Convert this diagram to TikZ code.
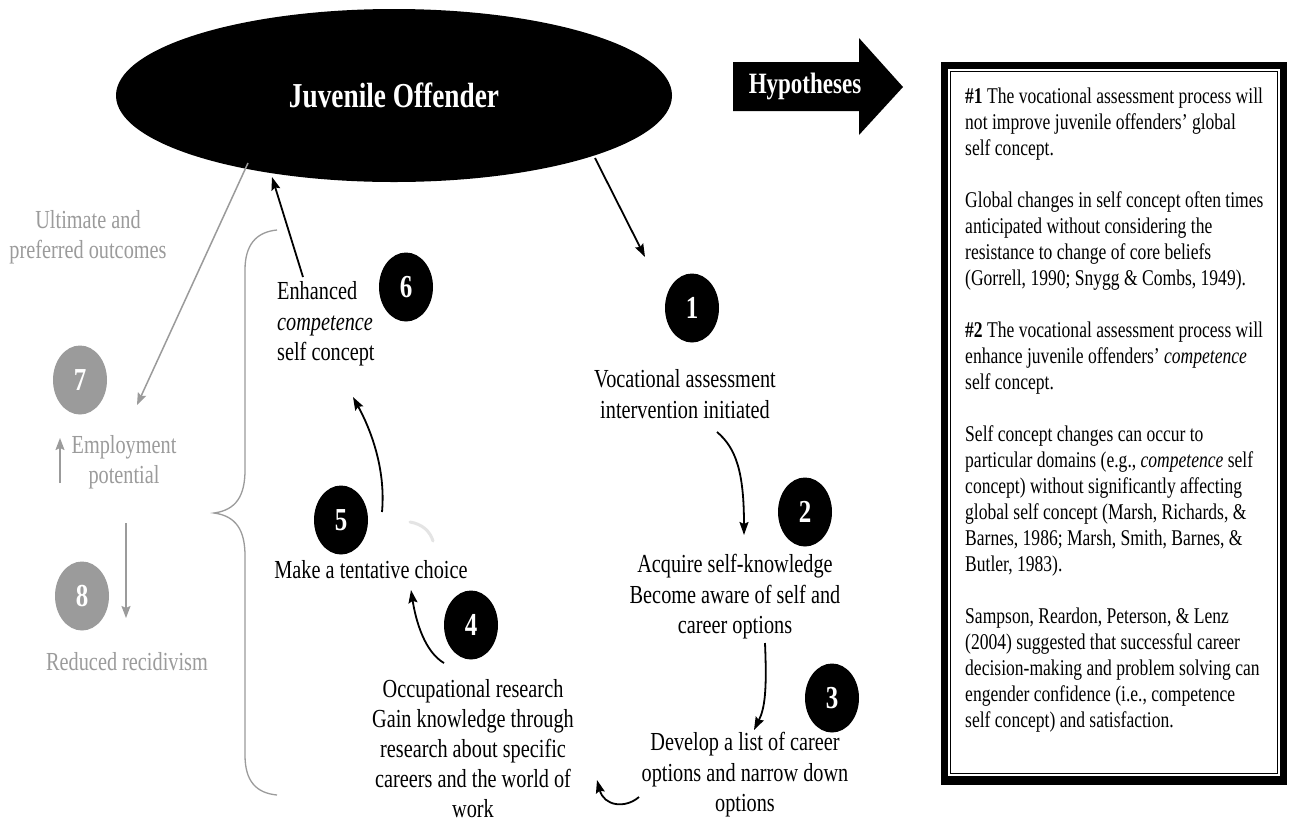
\documentclass[tikz,border=0pt]{standalone}
\usepackage{fontspec}
\setmainfont{Liberation Serif}[FakeStretch=0.78]
\usetikzlibrary{shapes.geometric,arrows.meta}
\definecolor{lgray}{RGB}{155,155,155}
\definecolor{fgray}{RGB}{228,228,228}
\begin{document}
\begin{tikzpicture}[x=1pt,y=-1pt,
  txt/.style={font=\fontsize{26}{30.5}\selectfont, align=center, inner sep=0pt},
  gtxt/.style={txt, text=lgray},
  num/.style={ellipse, fill=black, minimum width=54pt, minimum height=69pt, inner sep=0pt, text=white, font=\bfseries\fontsize{32}{32}\selectfont},
  gnum/.style={num, fill=lgray},
  arr/.style={line width=1.8pt, -{Stealth[length=13pt,width=9pt,inset=2pt]}},
  garr/.style={draw=lgray, line width=1.5pt, -{Stealth[length=12pt,width=9pt,inset=2pt]}},
  brace/.style={draw=lgray, line width=1.3pt}
]
\fill[white] (0,0) rectangle (1291,823);
\useasboundingbox (0,0) rectangle (1291,823);

% title ellipse
\node[ellipse, fill=black, minimum width=556pt, minimum height=173pt, inner sep=0pt] (ell) at (394,95.5) {};
\node[text=white, font=\bfseries\fontsize{35}{40}\selectfont, inner sep=0pt] (title) at (394,95) {Juvenile Offender};

% hypotheses arrow
\fill[black] (733,62) -- (859,62) -- (859,38) -- (903,87) -- (859,135) -- (859,111) -- (733,111) -- cycle;
\node[text=white, font=\bfseries\fontsize{29.5}{32}\selectfont, inner sep=0pt] (hyp) at (805,86) {Hypotheses};

% hypotheses box
\fill[black] (941,62) rectangle (1287,785);
\fill[white] (948,69) rectangle (1280,776);
\draw[line width=1.6pt] (950.5,71.5) rectangle (1277.5,773.5);
\node[anchor=north west, inner sep=0pt, align=left, font=\fontsize{22.5}{26}\selectfont] (hyptext) at (965,88)
{\textbf{\#1} The vocational assessment process will\\
not improve juvenile offenders' global\\
self concept.\\[26pt]
Global changes in self concept often times\\
anticipated without considering the\\
resistance to change of core beliefs\\
(Gorrell, 1990; Snygg \& Combs, 1949).\\[26pt]
\textbf{\#2} The vocational assessment process will\\
enhance juvenile offenders' \textit{competence}\\
self concept.\\[26pt]
Self concept changes can occur to\\
particular domains (e.g., \textit{competence} self\\
concept) without significantly affecting\\
global self concept (Marsh, Richards, \&\\
Barnes, 1986; Marsh, Smith, Barnes, \&\\
Butler, 1983).\\[26pt]
Sampson, Reardon, Peterson, \& Lenz\\
(2004) suggested that successful career\\
decision-making and problem solving can\\
engender confidence (i.e., competence\\
self concept) and satisfaction.};

% step circles
\node[num] (c1) at (692,308) {1};
\node[num] (c2) at (805,512) {2};
\node[num] (c3) at (832,698) {3};
\node[num] (c4) at (471,625) {4};
\node[num] (c5) at (341,520) {5};
\node[num] (c6) at (406,287) {6};
\node[gnum] (c7) at (80,380) {7};
\node[gnum] (c8) at (82,596) {8};

% step texts
\node[txt] (t1) at (685,394) {Vocational assessment\\intervention initiated};
\node[txt] (t2) at (735,597) {Acquire self-knowledge\\Become aware of self and\\career options};
\node[txt] (t3) at (745,775) {Develop a list of career\\options and narrow down\\options};
\node[txt, font=\fontsize{26}{30}\selectfont] (t4) at (473,749) {Occupational research\\Gain knowledge through\\research about specific\\careers and the world of\\work};
\node[txt] (t5) at (371,570) {Make a tentative choice};
\node[txt, align=left, anchor=west] (t6) at (277,324) {Enhanced\\\textit{competence}\\self concept};

% gray texts
\node[gtxt] (g0) at (88,237) {Ultimate and\\preferred outcomes};
\node[gtxt] (g7) at (124,462) {Employment\\potential};
\node[gtxt] (g8) at (127,662) {Reduced recidivism};

% arrow end points
\coordinate (a0s) at (595,158);  \coordinate (a0e) at (645,257);
\coordinate (a1s) at (717,432);  \coordinate (a1e) at (744,535);
\coordinate (a2s) at (765,643);  \coordinate (a2e) at (754,730);
\coordinate (a3s) at (639,797);  \coordinate (a3e) at (597,780);
\coordinate (a4s) at (444,663);  \coordinate (a4e) at (411,590);
\coordinate (a5s) at (382,512);  \coordinate (a5e) at (353,397);
\coordinate (a6s) at (303,277);  \coordinate (a6e) at (272,177);
\coordinate (g0s) at (248,163);  \coordinate (g0e) at (137,405);
\coordinate (gus) at (60,483);   \coordinate (gue) at (60,438);
\coordinate (gds) at (126,523);  \coordinate (gde) at (126,618);

\draw[arr] (a0s) -- (a0e);
\draw[arr] (a1s) .. controls (736,448) and (744,472) .. (a1e);
\draw[arr] (a2s) .. controls (767,690) and (765,708) .. (a2e);
\draw[arr] (a3s) .. controls (625,809) and (604,806) .. (a3e);
\draw[arr] (a4s) .. controls (425,652) and (416,622) .. (a4e);
\draw[arr] (a5s) .. controls (386,468) and (370,428) .. (a5e);
\draw[arr] (a6s) -- (a6e);

\draw[garr] (g0s) -- (g0e);
\draw[garr] (gus) -- (gue);
\draw[garr] (gds) -- (gde);

% faint arc
\draw[fgray, line width=3pt, line cap=round] (410,522) .. controls (422,524) and (430,531) .. (433,541);

% brace
\draw[brace] (277,230) .. controls (256,232) and (245,245) .. (245,270) -- (245,470)
  .. controls (245,496) and (236,510) .. (214,513)
  .. controls (236,516) and (245,530) .. (245,556) -- (245,755)
  .. controls (245,781) and (256,793) .. (277,795);
\end{tikzpicture}
\end{document}
